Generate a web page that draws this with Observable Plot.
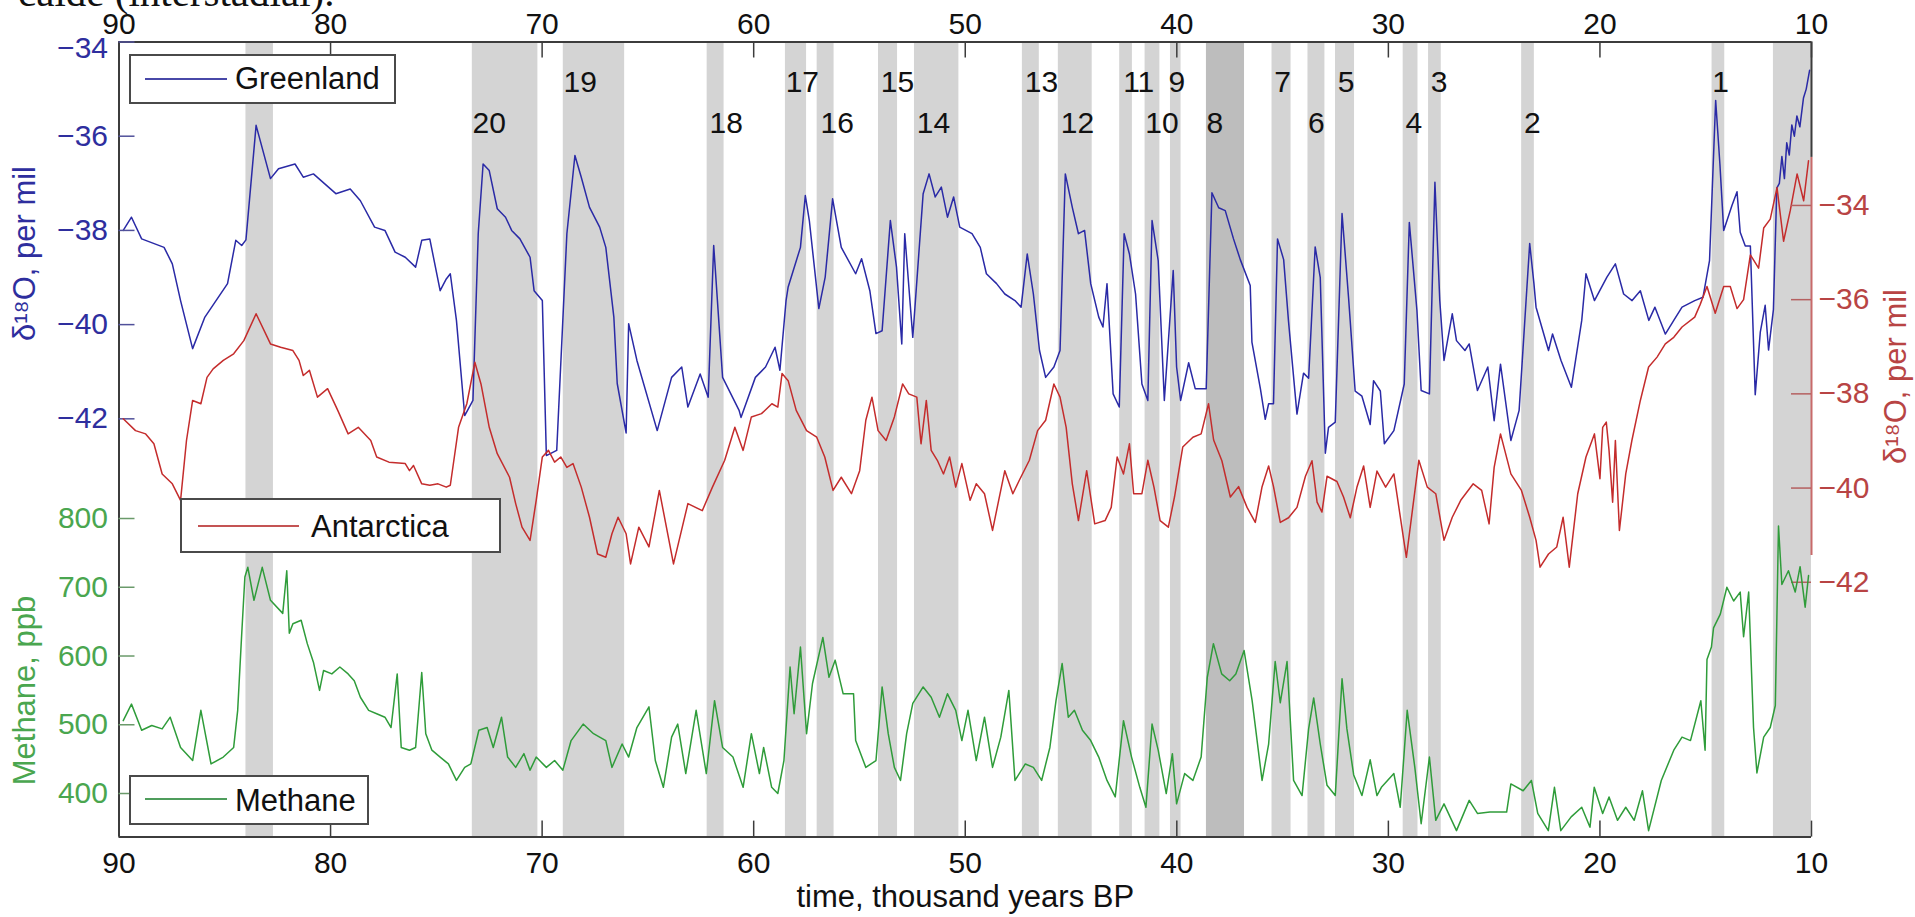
<!DOCTYPE html>
<html><head><meta charset="utf-8">
<script src="https://cdn.jsdelivr.net/npm/d3@7"></script>
<script src="https://cdn.jsdelivr.net/npm/@observablehq/plot@0.6"></script>
<style>
html,body{margin:0;padding:0;background:#fff;overflow:hidden}
#wrap{position:relative;width:1915px;height:917px;overflow:hidden;background:#fff}
#wrap svg{position:absolute;left:0;top:0}
#caption{position:absolute;left:18px;top:-28px;font:41px/41px 'Liberation Serif','Times New Roman',serif;white-space:nowrap;color:#111}
</style></head><body><div id="wrap"><div id="caption">caide (interstadial).</div></div>
<script>
// ---------------- DATA ----------------
const xTicks = [90, 80, 70, 60, 50, 40, 30, 20, 10];
const greenlandTicks = [-42, -40, -38, -36, -34];
const antarcticaTicks = [-42, -40, -38, -36, -34];
const methaneTicks = [400, 500, 600, 700, 800];

// interstadial bands [start, end] in thousand years BP
const interstadials = [[84.0,82.7],[73.3,70.2],[69.0,66.1],[62.2,61.4],[58.5,57.5],[57.0,56.2],[54.1,53.2],[52.4,50.3],[47.3,46.5],[45.6,44.0],[42.7,42.1],[41.5,40.8],[40.3,39.8],[38.6,36.8],[35.5,34.6],[33.8,33.0],[32.5,31.6],[29.3,28.6],[28.1,27.5],[23.7,23.1],[14.7,14.1],[11.8,10.0]];
const darkInterstadial = [38.6, 36.8];

const labelsUpper = [["19",68.2],["17",57.7],["15",53.2],["13",46.4],["11",41.8],["9",40.0],["7",35.0],["5",32.0],["3",27.6],["1",14.3]];
const labelsLower = [["20",72.5],["18",61.3],["16",56.05],["14",51.5],["12",44.7],["10",40.7],["8",38.2],["6",33.4],["4",28.8],["2",23.2]];

// Greenland d18O [age kyr BP, per mil]
const greenland = [[89.8,-38.0],[89.41,-37.72],[88.93,-38.18],[87.87,-38.36],[87.48,-38.71],[87.09,-39.49],[86.52,-40.51],[85.94,-39.84],[84.87,-39.13],[84.48,-38.21],[84.2,-38.32],[84.0,-38.2],[83.52,-35.77],[82.84,-36.9],[82.46,-36.69],[81.68,-36.59],[81.29,-36.87],[80.81,-36.8],[79.75,-37.22],[79.07,-37.12],[78.59,-37.37],[77.92,-37.93],[77.43,-38.0],[76.95,-38.46],[76.47,-38.57],[75.98,-38.78],[75.69,-38.21],[75.31,-38.18],[74.82,-39.28],[74.53,-39.03],[74.34,-38.92],[74.05,-39.91],[73.66,-41.93],[73.27,-41.61],[73.02,-38.07],[72.79,-36.59],[72.5,-36.73],[72.12,-37.54],[71.73,-37.72],[71.44,-38.0],[71.05,-38.18],[70.57,-38.57],[70.38,-39.28],[69.99,-39.49],[69.8,-42.78],[69.31,-42.67],[68.83,-38.07],[68.45,-36.41],[68.15,-36.87],[67.76,-37.51],[67.28,-37.93],[66.99,-38.36],[66.61,-39.84],[66.45,-41.25],[66.03,-42.3],[65.91,-39.98],[65.52,-40.76],[64.56,-42.25],[63.88,-41.12],[63.4,-40.9],[63.11,-41.75],[62.53,-41.05],[62.15,-41.54],[61.89,-38.32],[61.47,-41.12],[60.69,-41.82],[60.6,-41.97],[59.92,-41.12],[59.44,-40.9],[58.99,-40.48],[58.76,-40.97],[58.47,-39.49],[58.37,-39.2],[57.79,-38.36],[57.56,-37.26],[57.37,-37.79],[56.92,-39.66],[56.62,-38.99],[56.27,-37.33],[55.86,-38.36],[55.18,-38.92],[54.9,-38.6],[54.51,-39.28],[54.22,-40.19],[53.93,-40.13],[53.54,-37.79],[53.25,-38.78],[53.0,-40.41],[52.86,-38.07],[52.48,-40.27],[51.99,-37.22],[51.71,-36.8],[51.42,-37.29],[51.13,-37.08],[50.84,-37.72],[50.55,-37.29],[50.26,-37.93],[49.68,-38.07],[49.29,-38.36],[49.0,-38.92],[48.52,-39.13],[48.13,-39.35],[47.65,-39.49],[47.36,-39.63],[47.07,-38.5],[46.78,-39.35],[46.49,-40.55],[46.2,-41.12],[45.81,-40.9],[45.52,-40.55],[45.27,-36.8],[44.94,-37.51],[44.65,-38.07],[44.36,-38.0],[44.07,-39.13],[43.69,-39.84],[43.49,-40.05],[43.3,-39.13],[43.01,-41.47],[42.72,-41.75],[42.49,-38.07],[42.24,-38.5],[41.95,-39.35],[41.65,-41.26],[41.37,-41.61],[41.17,-37.79],[40.88,-38.64],[40.59,-41.61],[40.17,-38.85],[40.01,-40.9],[39.82,-41.61],[39.44,-40.81],[39.13,-41.36],[38.61,-41.36],[38.34,-37.2],[38.02,-37.52],[37.71,-37.58],[37.32,-38.18],[37.0,-38.62],[36.53,-39.17],[36.45,-40.37],[36.05,-41.36],[35.82,-42.01],[35.66,-41.68],[35.43,-41.68],[35.24,-38.18],[34.95,-38.62],[34.72,-39.93],[34.32,-41.9],[34.01,-41.03],[33.77,-41.14],[33.46,-38.35],[33.22,-39.0],[32.98,-42.73],[32.83,-42.18],[32.51,-42.07],[32.19,-37.64],[31.88,-39.44],[31.57,-41.41],[31.25,-41.52],[30.86,-42.12],[30.7,-41.19],[30.38,-41.41],[30.19,-42.53],[29.74,-42.25],[29.25,-41.26],[29.01,-37.83],[28.65,-39.7],[28.45,-41.4],[28.06,-41.47],[27.8,-36.98],[27.57,-39.49],[27.37,-40.76],[26.98,-39.77],[26.78,-40.34],[26.38,-40.55],[26.18,-40.41],[25.79,-41.4],[25.3,-40.9],[25.0,-42.04],[24.7,-40.84],[24.21,-42.46],[23.82,-41.82],[23.32,-38.28],[23.12,-39.13],[23.02,-39.63],[22.43,-40.55],[22.24,-40.2],[21.84,-40.76],[21.35,-41.33],[20.86,-39.91],[20.66,-38.92],[20.26,-39.49],[19.67,-38.99],[19.27,-38.71],[18.88,-39.35],[18.48,-39.49],[18.09,-39.28],[17.69,-39.91],[17.4,-39.63],[16.91,-40.2],[16.51,-39.91],[16.12,-39.63],[15.52,-39.49],[15.13,-39.42],[14.82,-38.64],[14.53,-35.24],[14.33,-36.59],[14.15,-38.0],[13.76,-37.47],[13.52,-37.18],[13.37,-38.04],[13.13,-38.33],[12.89,-38.33],[12.66,-41.49],[12.42,-40.16],[12.19,-39.59],[12.03,-40.54],[11.8,-39.68],[11.64,-37.1],[11.52,-37.0],[11.4,-36.43],[11.28,-36.9],[11.17,-36.14],[11.05,-36.4],[10.93,-35.76],[10.81,-36.0],[10.69,-35.57],[10.55,-35.8],[10.38,-35.19],[10.25,-35.0],[10.09,-34.6]];

// Antarctica d18O [age kyr BP, per mil]
const antarctica = [[89.8,-38.53],[89.22,-38.78],[88.74,-38.85],[88.35,-39.06],[87.96,-39.7],[87.48,-39.91],[87.09,-40.26],[86.81,-38.99],[86.52,-38.14],[86.13,-38.21],[85.84,-37.65],[85.55,-37.47],[85.07,-37.29],[84.58,-37.15],[84.1,-36.87],[83.52,-36.3],[82.84,-36.94],[82.36,-37.01],[81.78,-37.08],[81.49,-37.29],[81.29,-37.61],[81.0,-37.5],[80.62,-38.07],[80.14,-37.89],[79.66,-38.35],[79.17,-38.85],[78.69,-38.71],[78.1,-38.99],[77.82,-39.34],[77.24,-39.45],[76.47,-39.48],[76.27,-39.63],[76.08,-39.52],[75.69,-39.91],[75.31,-39.94],[74.92,-39.91],[74.53,-39.98],[74.34,-39.94],[73.95,-38.71],[73.56,-38.21],[73.18,-37.33],[72.89,-37.79],[72.5,-38.71],[72.12,-39.27],[71.54,-39.77],[71.25,-40.33],[70.95,-40.83],[70.57,-41.11],[70.28,-40.26],[69.99,-39.34],[69.7,-39.2],[69.41,-39.45],[69.12,-39.34],[68.83,-39.56],[68.54,-39.48],[68.15,-39.98],[67.76,-40.62],[67.38,-41.4],[66.99,-41.47],[66.7,-40.97],[66.41,-40.62],[66.03,-40.97],[65.82,-41.61],[65.43,-40.83],[64.95,-41.25],[64.46,-40.05],[63.79,-41.61],[63.11,-40.33],[62.43,-40.48],[61.95,-39.98],[61.37,-39.41],[60.89,-38.71],[60.5,-39.2],[60.11,-38.49],[59.63,-38.42],[59.14,-38.21],[58.86,-38.28],[58.66,-37.57],[58.37,-37.72],[57.99,-38.35],[57.5,-38.78],[57.02,-38.92],[56.64,-39.34],[56.25,-40.05],[55.86,-39.77],[55.38,-40.12],[54.99,-39.63],[54.7,-38.56],[54.41,-38.07],[54.12,-38.78],[53.74,-38.99],[53.35,-38.49],[52.96,-37.79],[52.67,-38.0],[52.29,-38.07],[52.09,-39.06],[51.84,-38.14],[51.61,-39.2],[51.32,-39.41],[51.03,-39.7],[50.74,-39.34],[50.45,-39.98],[50.16,-39.48],[49.77,-40.26],[49.48,-39.91],[49.09,-40.12],[48.71,-40.9],[48.42,-40.26],[48.13,-39.63],[47.75,-40.12],[47.45,-39.84],[46.97,-39.41],[46.58,-38.78],[46.2,-38.56],[45.81,-37.79],[45.52,-38.07],[45.23,-38.71],[44.94,-39.91],[44.65,-40.69],[44.26,-39.63],[43.88,-40.76],[43.39,-40.69],[43.1,-40.41],[42.82,-39.34],[42.52,-39.7],[42.24,-39.06],[42.04,-40.12],[41.65,-40.12],[41.37,-39.41],[41.08,-39.98],[40.79,-40.69],[40.4,-40.83],[40.11,-40.19],[39.72,-39.13],[39.24,-38.92],[38.85,-38.85],[38.5,-38.21],[38.26,-38.98],[37.87,-39.42],[37.47,-40.19],[37.08,-39.97],[36.68,-40.41],[36.29,-40.73],[35.97,-39.97],[35.66,-39.53],[35.43,-39.97],[35.11,-40.73],[34.72,-40.63],[34.32,-40.41],[33.92,-39.75],[33.61,-39.42],[33.37,-40.3],[33.14,-40.51],[32.9,-39.75],[32.43,-39.86],[32.12,-40.19],[31.8,-40.63],[31.48,-39.97],[31.17,-39.53],[30.86,-40.41],[30.54,-39.64],[30.13,-39.98],[29.74,-39.7],[29.15,-41.47],[28.56,-39.41],[28.16,-39.98],[27.76,-40.12],[27.37,-41.11],[26.98,-40.62],[26.58,-40.26],[25.99,-39.91],[25.59,-40.05],[25.24,-40.76],[25.0,-39.56],[24.7,-38.85],[24.21,-39.7],[23.71,-40.05],[23.32,-40.62],[23.02,-41.11],[22.83,-41.68],[22.43,-41.4],[22.04,-41.25],[21.74,-40.62],[21.45,-41.68],[21.05,-40.12],[20.66,-39.34],[20.26,-38.85],[20.0,-39.8],[19.87,-38.71],[19.7,-38.6],[19.57,-39.2],[19.4,-40.3],[19.27,-38.99],[19.08,-40.9],[18.78,-39.7],[18.49,-38.99],[18.09,-38.14],[17.7,-37.43],[17.3,-37.22],[16.91,-36.94],[16.51,-36.8],[16.12,-36.58],[15.52,-36.37],[15.26,-36.1],[14.94,-35.72],[14.55,-36.29],[14.15,-35.72],[13.84,-35.72],[13.52,-36.19],[13.21,-36.0],[12.89,-35.05],[12.5,-35.33],[12.26,-34.48],[11.95,-34.29],[11.63,-33.62],[11.32,-34.76],[11.0,-34.1],[10.68,-33.33],[10.37,-33.9],[10.14,-33.05]];

// Methane [age kyr BP, ppb]
const methane = [[89.8,506],[89.41,530],[88.93,492],[88.45,499],[87.96,494],[87.58,511],[87.09,467],[86.52,448],[86.13,521],[85.65,443],[85.07,453],[84.58,467],[84.39,521],[84.2,632],[84.05,715],[83.91,729],[83.62,681],[83.23,729],[82.84,681],[82.26,662],[82.07,724],[81.95,633],[81.78,647],[81.39,652],[81.1,618],[80.81,591],[80.52,550],[80.33,579],[79.94,574],[79.56,584],[79.17,574],[78.88,564],[78.59,540],[78.2,521],[77.82,516],[77.43,511],[77.14,496],[76.85,574],[76.66,467],[76.27,463],[75.98,467],[75.69,576],[75.5,487],[75.21,463],[74.82,453],[74.43,443],[74.05,419],[73.66,438],[73.37,443],[72.99,492],[72.6,496],[72.31,467],[71.92,511],[71.63,453],[71.25,438],[70.86,458],[70.57,434],[70.28,453],[69.8,438],[69.41,448],[69.02,434],[68.63,477],[68.06,501],[67.57,487],[66.99,477],[66.7,438],[66.22,472],[65.91,453],[65.52,496],[64.95,526],[64.65,448],[64.27,409],[63.88,482],[63.59,501],[63.21,429],[62.72,521],[62.24,429],[61.85,535],[61.47,467],[60.98,453],[60.5,409],[60.11,487],[59.73,429],[59.53,467],[59.15,409],[58.86,400],[58.57,448],[58.28,584],[58.09,516],[57.79,613],[57.5,487],[57.22,560],[56.73,627],[56.44,569],[56.15,594],[55.77,545],[55.28,545],[55.18,477],[54.7,438],[54.22,448],[53.93,555],[53.64,487],[53.35,438],[53.06,419],[52.77,487],[52.48,531],[51.99,555],[51.61,540],[51.22,511],[50.84,545],[50.45,521],[50.16,477],[49.87,521],[49.48,448],[49.09,511],[48.71,438],[48.32,482],[47.94,550],[47.65,419],[47.16,443],[46.78,438],[46.39,419],[46.0,467],[45.71,535],[45.42,589],[45.13,511],[44.84,521],[44.46,492],[44.07,477],[43.69,453],[43.3,419],[42.91,395],[42.52,506],[42.14,453],[41.75,409],[41.46,380],[41.17,501],[40.88,463],[40.5,400],[40.21,458],[40.01,385],[39.63,429],[39.24,419],[38.85,453],[38.56,569],[38.27,618],[37.88,574],[37.5,564],[37.21,574],[36.82,608],[36.44,535],[35.97,419],[35.66,472],[35.35,592],[35.11,532],[34.79,592],[34.48,419],[34.08,397],[33.77,494],[33.53,539],[33.22,472],[32.9,412],[32.51,397],[32.19,567],[31.96,494],[31.64,427],[31.25,397],[30.86,449],[30.54,397],[30.33,409],[29.74,429],[29.44,380],[29.11,521],[28.75,438],[28.45,356],[28.06,453],[27.76,361],[27.37,385],[26.78,346],[26.18,390],[25.79,371],[25.2,373],[24.41,373],[24.21,414],[23.63,404],[23.24,419],[22.94,371],[22.44,346],[22.15,409],[21.85,346],[21.36,366],[20.86,380],[20.47,351],[20.27,409],[19.87,371],[19.57,395],[19.17,361],[18.78,380],[18.38,361],[17.99,404],[17.7,346],[17.1,419],[16.51,463],[16.12,482],[15.72,477],[15.23,535],[15.03,463],[14.94,595],[14.73,613],[14.63,641],[14.31,661],[14.0,700],[13.68,680],[13.37,693],[13.21,628],[12.97,693],[12.74,496],[12.58,430],[12.26,482],[11.95,496],[11.71,528],[11.56,789],[11.4,704],[11.09,724],[10.77,693],[10.54,730],[10.3,671],[10.14,717]];

const seriesNames = ["Greenland", "Antarctica", "Methane"];
const xTitle = "time, thousand years BP";
const d18OTitle = "δ¹⁸O, per mil";
const methaneTitle = "Methane, ppb";

// ---------------- LAYOUT / STYLE ----------------
const W = 1915, H = 917;
const ML = 118.5, MR = 104, MT = 41.5, MB = 80.4;
const PW = W - ML - MR, PH = H - MT - MB;
const greenDomain = [-50.88, -34];
const antDomain = [-47.41, -30.53];
const methDomain = [336.6, 1493.1];
const rightSpineGray = [-30.53, -32.98];
const rightSpineRed = [-32.98, -41.43];
const FONT = "'Liberation Sans', Arial, Helvetica, sans-serif";
const C = {
  blue: "#2a2aa6", blueText: "#2e2e9e", red: "#c42c2c", redText: "#b84444",
  green: "#2f9c3a", greenText: "#4aa64f", band: "#d4d4d4", bandDark: "#bdbdbd", frame: "#3c3c3c"
};

const toObj = (arr) => arr.map(([age, value]) => ({age, value}));
const bandRows = interstadials.map(([s, e]) => ({start: s, end: e, dark: s === darkInterstadial[0] && e === darkInterstadial[1]}));
const upper = labelsUpper.map(([label, age]) => ({label, age}));
const lower = labelsLower.map(([label, age]) => ({label, age}));

const common = {
  width: W, height: H, marginLeft: ML, marginRight: MR, marginTop: MT, marginBottom: MB,
  style: {background: "transparent", fontFamily: FONT, overflow: "visible"}
};
const fmtNeg = d => d < 0 ? "\u2212" + Math.abs(d) : String(d);
const centered = {textAnchor: "middle", lineAnchor: "middle"};
const gTicksLow = greenlandTicks.slice(0, -1);
const gTickTop = greenlandTicks.slice(-1);

const plotA = Plot.plot({
  ...common,
  x: {domain: [90, 10]},
  y: {domain: greenDomain},
  marks: [
    Plot.rect(bandRows, {x1: "start", x2: "end", fill: d => d.dark ? C.bandDark : C.band}),
    Plot.line(toObj(greenland), {x: "age", y: "value", stroke: C.blue, strokeWidth: 1.5}),
    Plot.text(upper, {x: "age", text: "label", frameAnchor: "top", dy: 40, fontSize: 30, fill: "#111", ...centered}),
    Plot.text(lower, {x: "age", text: "label", frameAnchor: "top", dy: 81, fontSize: 30, fill: "#111", ...centered}),
    Plot.ruleX([90], {stroke: C.frame, strokeWidth: 2}),
    Plot.ruleY([greenDomain[1]], {stroke: C.frame, strokeWidth: 2}),
    Plot.ruleY([greenDomain[0]], {stroke: C.frame, strokeWidth: 2}),
    Plot.tickX(xTicks, {x: d => d, insetTop: PH - 16, stroke: C.frame, strokeWidth: 1.5}),
    Plot.tickX(xTicks, {x: d => d, insetBottom: PH - 16, stroke: C.frame, strokeWidth: 1.5}),
    Plot.tickY(greenlandTicks, {y: d => d, insetRight: PW - 16, stroke: "#50509a", strokeWidth: 1.5}),
    Plot.axisX({anchor: "bottom", ticks: xTicks, tickSize: 0, tickPadding: 15, fontSize: 30, label: null, color: "#111", fill: "#111"}),
    Plot.axisX({anchor: "top", ticks: xTicks, tickSize: 0, tickPadding: 8, fontSize: 30, label: null, color: "#111", fill: "#111"}),
    Plot.axisY({anchor: "left", ticks: gTicksLow, tickSize: 0, tickPadding: 11, fontSize: 30, label: null, tickFormat: fmtNeg, color: C.blueText, fill: C.blueText}),
    Plot.axisY({anchor: "left", ticks: gTickTop, tickSize: 0, tickPadding: 11, fontSize: 30, label: null, tickFormat: fmtNeg, color: C.blueText, fill: C.blueText, dy: 6}),
    Plot.text([xTitle], {text: d => d, frameAnchor: "bottom", dy: 60, fontSize: 31, fill: "#111", ...centered}),
    Plot.text([d18OTitle], {text: d => d, frameAnchor: "top-left", dx: 25 - ML, dy: 253 - MT, rotate: -90, fontSize: 31, fill: C.blueText, ...centered})
  ]
});

const plotB = Plot.plot({
  ...common,
  x: {domain: [90, 10], axis: null},
  y: {domain: antDomain},
  marks: [
    Plot.line(toObj(antarctica), {x: "age", y: "value", stroke: C.red, strokeWidth: 1.5}),
    Plot.ruleX([10], {y1: rightSpineGray[0], y2: rightSpineGray[1], stroke: C.frame, strokeWidth: 2}),
    Plot.ruleX([10], {y1: rightSpineRed[0], y2: rightSpineRed[1], stroke: "#c86a6a", strokeWidth: 2}),
    Plot.tickY(antarcticaTicks, {y: d => d, insetLeft: PW - 20, stroke: "#b56060", strokeWidth: 1.5}),
    Plot.axisY({anchor: "right", ticks: antarcticaTicks, tickSize: 0, tickPadding: 7, fontSize: 30, label: null, tickFormat: fmtNeg, color: C.redText, fill: C.redText}),
    Plot.text([d18OTitle], {text: d => d, frameAnchor: "top-right", dx: 1896 - (W - MR), dy: 376 - MT, rotate: -90, fontSize: 31, fill: C.redText, ...centered})
  ]
});

const plotC = Plot.plot({
  ...common,
  x: {domain: [90, 10], axis: null},
  y: {domain: methDomain},
  marks: [
    Plot.line(toObj(methane), {x: "age", y: "value", stroke: C.green, strokeWidth: 1.5}),
    Plot.tickY(methaneTicks, {y: d => d, insetRight: PW - 16, stroke: "#6a9a6a", strokeWidth: 1.5}),
    Plot.axisY({anchor: "left", ticks: methaneTicks, tickSize: 0, tickPadding: 11, fontSize: 30, label: null, color: C.greenText, fill: C.greenText}),
    Plot.text([methaneTitle], {text: d => d, frameAnchor: "top-left", dx: 25 - ML, dy: 690 - MT, rotate: -90, fontSize: 31, fill: C.greenText, ...centered})
  ]
});

const wrap = document.getElementById("wrap");
wrap.appendChild(plotA);
wrap.appendChild(plotB);
wrap.appendChild(plotC);

// ---------------- LEGENDS ----------------
const legendColors = ["#4848a8", "#c45454", "#4f9d5c"];
const legendLayout = [
  {x: 130, y: 55, w: 265, h: 48, l1: 15, l2: 97, ly: 24, tx: 105, ty: 34},
  {x: 181, y: 499, w: 319, h: 53, l1: 17, l2: 118, ly: 27, tx: 130, ty: 38},
  {x: 130, y: 776, w: 238, h: 48, l1: 15, l2: 97, ly: 23, tx: 105, ty: 35}
];
const svg = d3.create("svg").attr("width", W).attr("height", H).attr("viewBox", `0 0 ${W} ${H}`)
  .style("font-family", FONT);
seriesNames.forEach((name, i) => {
  const L = legendLayout[i];
  const g = svg.append("g").attr("transform", `translate(${L.x},${L.y})`);
  g.append("rect").attr("width", L.w).attr("height", L.h).attr("fill", "#fff").attr("stroke", "#4a4a4a").attr("stroke-width", 2);
  g.append("line").attr("x1", L.l1).attr("x2", L.l2).attr("y1", L.ly).attr("y2", L.ly).attr("stroke", legendColors[i]).attr("stroke-width", 2);
  g.append("text").attr("x", L.tx).attr("y", L.ty).attr("font-size", 31).attr("fill", "#111").text(name);
});
wrap.appendChild(svg.node());
</script></body></html>
